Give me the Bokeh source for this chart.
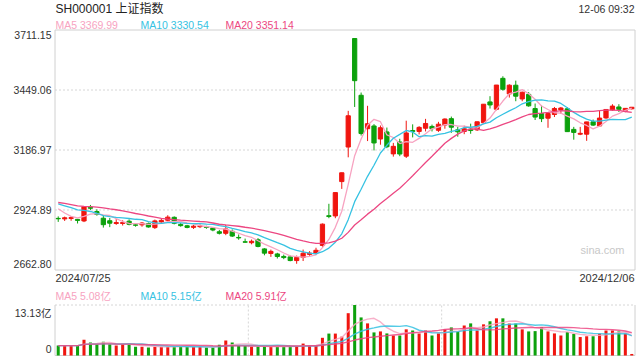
from bokeh.plotting import figure
from bokeh.models import Range1d, Label
from bokeh.embed import file_html
from bokeh.resources import INLINE
import pandas as pd

# ---------------- data ----------------
title_text = "SH000001 上证指数"
time_text = "12-06 09:32"
date_labels = ["2024/07/25", "2024/12/06"]
price_ticks = [3711.15, 3449.06, 3186.97, 2924.89, 2662.80]
vol_ticks = [13.13, 0]
vol_tick_labels = ["13.13亿", "0"]
vol_grid_x = [29.5, 59.5]
ma_names = ["MA5", "MA10", "MA20"]
ma_windows = [5, 10, 20]
ma_last_price = ["3369.99", "3330.54", "3351.14"]
ma_last_vol = ["5.08亿", "5.15亿", "5.91亿"]

# closes of the 19 sessions before 2024/07/25 (needed for the moving averages)
prior_closes = [2967.40, 2994.73, 2997.01, 2982.38, 2957.57, 2949.94, 2922.45, 2959.37,
                2939.36, 2970.39, 2971.30, 2974.01, 2976.30, 2962.17, 2977.13, 2982.31,
                2964.22, 2915.37, 2901.95]

opens = [2888, 2886, 2888, 2884, 2877, 2937, 2918, 2889, 2878, 2866,
         2866, 2876, 2860, 2860, 2866, 2848, 2873, 2880, 2893, 2862,
         2856, 2849, 2852, 2852, 2846, 2830, 2823, 2832, 2805, 2786,
         2782, 2795, 2755, 2735, 2733, 2722, 2720, 2704, 2718, 2731,
         2737, 2770, 2900, 2899, 3049, 3200, 3674, 3426, 3280, 3292,
         3235, 3266, 3170, 3222, 3160, 3272, 3268, 3282, 3290, 3273,
         3296, 3324, 3275, 3268, 3278, 3275, 3306, 3397, 3365, 3500,
         3432, 3470, 3410, 3430, 3368, 3346, 3326, 3342, 3362, 3367,
         3277, 3256, 3256, 3310, 3292, 3327, 3362, 3375, 3360, 3367]
highs = [2897, 2896, 2898, 2886, 2941, 2947, 2928, 2902, 2890, 2885,
         2880, 2884, 2866, 2872, 2870, 2883, 2887, 2902, 2897, 2868,
         2860, 2860, 2862, 2856, 2849, 2838, 2860, 2840, 2818, 2800,
         2796, 2802, 2758, 2752, 2738, 2730, 2726, 2726, 2752, 2745,
         2760, 2866, 2952, 3001, 3088, 3358, 3674, 3438, 3380, 3300,
         3294, 3285, 3218, 3236, 3315, 3299, 3291, 3323, 3298, 3310,
         3325, 3333, 3288, 3293, 3302, 3311, 3387, 3422, 3471, 3509,
         3474, 3490, 3442, 3440, 3390, 3382, 3349, 3375, 3375, 3374,
         3288, 3288, 3310, 3320, 3360, 3366, 3387, 3387, 3370, 3375]
lows = [2873, 2877, 2878, 2866, 2872, 2925, 2900, 2848, 2850, 2860,
        2857, 2858, 2852, 2852, 2848, 2842, 2868, 2876, 2862, 2852,
        2845, 2842, 2846, 2843, 2832, 2818, 2815, 2807, 2795, 2782,
        2775, 2762, 2727, 2720, 2713, 2710, 2701, 2690, 2702, 2725,
        2730, 2764, 2889, 2889, 3017, 3155, 3375, 3250, 3226, 3185,
        3210, 3195, 3158, 3160, 3152, 3242, 3255, 3268, 3268, 3266,
        3280, 3262, 3245, 3256, 3258, 3270, 3303, 3368, 3360, 3446,
        3416, 3400, 3400, 3376, 3318, 3309, 3284, 3331, 3345, 3266,
        3232, 3252, 3227, 3292, 3290, 3323, 3358, 3353, 3352, 3364]
closes = [2886.74, 2890.90, 2891.85, 2879.30, 2938.75, 2932.39, 2905.34, 2860.70, 2867.28, 2869.90,
          2869.83, 2862.19, 2858.20, 2867.95, 2850.65, 2877.36, 2879.43, 2893.67, 2866.66, 2856.58,
          2848.77, 2854.37, 2855.52, 2848.73, 2837.43, 2823.11, 2842.21, 2811.04, 2802.98, 2784.28,
          2788.31, 2765.81, 2736.49, 2744.19, 2721.80, 2717.12, 2704.09, 2717.28, 2736.02, 2736.81,
          2748.92, 2863.13, 2896.31, 3000.95, 3087.53, 3336.50, 3489.78, 3258.86, 3301.93, 3217.74,
          3284.32, 3201.29, 3202.95, 3169.38, 3261.56, 3268.11, 3285.87, 3302.80, 3280.26, 3299.70,
          3322.20, 3286.41, 3266.24, 3279.82, 3272.01, 3310.21, 3386.99, 3383.81, 3470.66, 3452.30,
          3470.07, 3421.97, 3439.28, 3379.84, 3330.73, 3323.85, 3346.01, 3367.99, 3370.40, 3267.19,
          3263.76, 3259.76, 3309.78, 3295.70, 3326.46, 3363.98, 3378.81, 3364.65, 3368.86, 3373.65]
# volume, 亿
volumes = [2.57, 2.57, 2.57, 2.57, 4.12, 3.35, 2.92, 3.60, 2.90, 2.57,
           2.90, 2.90, 2.30, 2.30, 2.06, 2.30, 2.30, 2.30, 2.30, 2.30,
           2.30, 2.30, 2.30, 2.06, 2.06, 2.80, 3.90, 3.35, 2.50, 2.50,
           2.30, 2.30, 2.30, 2.30, 2.30, 2.30, 2.50, 2.50, 3.10, 2.50,
           2.50, 4.60, 5.70, 5.70, 4.90, 11.00, 13.13, 9.90, 8.35, 6.00,
           6.26, 5.74, 5.20, 5.20, 6.80, 6.50, 5.74, 6.50, 5.20, 5.74,
           6.80, 7.30, 6.26, 7.80, 8.35, 6.50, 8.10, 8.90, 9.66, 9.66,
           8.30, 8.30, 6.80, 6.26, 6.34, 7.40, 6.26, 5.74, 5.20, 6.10,
           5.60, 4.80, 5.00, 5.00, 5.70, 6.50, 6.50, 6.26, 5.74, 0.40]

# ---------------- style / layout (pixels) ----------------
W, H = 640, 360
BOX_L, BOX_R = 54.5, 634.5          # left / right edges of both panels
P_TOP, P_BOT = 29.5, 269.5          # price panel
V_TOP, V_BOT = 304.5, 355.0         # volume panel
RED, GREEN = "#f0150f", "#0ca10c"
MA_COLORS = ["#f7a3c1", "#36c2e2", "#ec4782"]
TXT = "#333333"
BORDER = "#d0d0d0"
GRID = "#d6d6d6"
FONT = "Liberation Sans, Noto Sans CJK SC"

n = len(closes)
idx = list(range(n))
x0, x1 = -0.5, n - 0.5
ux = (BOX_R - BOX_L) / (x1 - x0)
p_hi, p_lo = price_ticks[0], price_ticks[-1]
uy = (p_hi - p_lo) / (P_BOT - P_TOP)
v_hi, v_lo = vol_ticks[0], vol_ticks[-1]
uv = (v_hi - v_lo) / (V_BOT - V_TOP)

colors = [RED if c >= o else GREEN for o, c in zip(opens, closes)]
mids = [(o + c) / 2 for o, c in zip(opens, closes)]
halves = [max(abs(c - o) / 2, 0.8) for o, c in zip(opens, closes)]
body_top = [m + h for m, h in zip(mids, halves)]
body_bot = [m - h for m, h in zip(mids, halves)]

all_closes = pd.Series(prior_closes + closes)
price_ma = [all_closes.rolling(w).mean().iloc[len(prior_closes):].tolist() for w in ma_windows]
vol_s = pd.Series(volumes)
vol_ma = [vol_s.rolling(w, min_periods=1).mean().tolist() for w in ma_windows]

p = figure(width=W, height=H,
           x_range=Range1d(x0 - BOX_L / ux, x1 + (W - BOX_R) / ux),
           y_range=Range1d(p_lo - (H - P_BOT) * uy, p_hi + P_TOP * uy),
           output_backend="svg", toolbar_location=None, tools="",
           x_axis_location=None, y_axis_location=None, title=None)
p.extra_y_ranges = {"vol": Range1d(v_lo - (H - V_BOT) * uv, v_hi + V_TOP * uv)}
p.min_border = 0
p.outline_line_color = None
p.xgrid.visible = False
p.ygrid.visible = False
p.background_fill_color = "white"
p.border_fill_color = "white"

# ---- price panel frame & grid
mid_ticks = price_ticks[1:-1]
p.segment(x0=[x0] * len(mid_ticks), x1=[x1] * len(mid_ticks), y0=mid_ticks, y1=mid_ticks,
          line_color=GRID, line_width=1, line_dash="2 2")
p.quad(left=[x0], right=[x1], bottom=[p_lo], top=[p_hi], fill_color=None,
       line_color=BORDER, line_width=1)

# ---- candles
p.segment(x0=idx, y0=lows, x1=idx, y1=highs, color=colors, line_width=1)
p.vbar(x=idx, width=0.66, top=body_top, bottom=body_bot, fill_color=colors,
       line_color=colors, line_width=1)
for ma, col in zip(price_ma, MA_COLORS):
    p.line(idx, ma, color=col, line_width=1.3)

# ---- volume panel frame & grid
p.segment(x0=[x0], x1=[x1], y0=[v_hi], y1=[v_hi], line_color=GRID, line_dash="2 2",
          y_range_name="vol")
p.segment(x0=vol_grid_x, x1=vol_grid_x, y0=[v_lo] * 2, y1=[v_hi] * 2, line_color=GRID,
          line_dash="2 2", y_range_name="vol")
p.segment(x0=[x0, x1, x0], x1=[x0, x1, x1], y0=[v_lo, v_lo, v_lo], y1=[v_hi, v_hi, v_lo],
          line_color=BORDER, line_width=1, y_range_name="vol")
p.vbar(x=idx, width=0.47, top=volumes, bottom=0, fill_color=colors, line_color=None,
       y_range_name="vol")
for ma, col in zip(vol_ma, MA_COLORS):
    p.line(idx, ma, color=col, line_width=1.4, alpha=0.85, y_range_name="vol")


# ---- texts (screen units: origin bottom-left of canvas)
def lbl(text, x, y, align="left", baseline="middle", size="10.5px", color=TXT, y_units="screen"):
    p.add_layout(Label(x=x, y=y, x_units="screen", y_units=y_units, text=text,
                       text_align=align, text_baseline=baseline, text_font_size=size,
                       text_color=color, text_font=FONT))


def sy(page_y):
    return H - page_y


lbl(title_text, 55, sy(8), size="12px", color="#222222")
lbl(time_text, 634, sy(8.5), align="right")
for k, (nm, v, col) in enumerate(zip(ma_names, ma_last_price, MA_COLORS)):
    lbl(f"{nm} {v}", 55 + 85 * k, sy(24.5), color=col)
# end tick labels sit just inside the panel, the others on their grid lines
lbl(f"{price_ticks[0]:.2f}", 51, sy(P_TOP + 4.5), align="right")
for t in mid_ticks:
    lbl(f"{t:.2f}", 51, t, align="right", y_units="data")
lbl(f"{price_ticks[-1]:.2f}", 51, sy(P_BOT - 6.5), align="right")
lbl(date_labels[0], 55, sy(277.5), size="11px")
lbl(date_labels[1], 634, sy(277.5), align="right", size="11px")
lbl("sina.com", 602, sy(249), align="center", size="11px", color="#c8c8c8")
for k, (nm, v, col) in enumerate(zip(ma_names, ma_last_vol, MA_COLORS)):
    lbl(f"{nm} {v}", 55 + 85 * k, sy(295), color=col)
lbl(vol_tick_labels[0], 51, sy(312), align="right")
lbl(vol_tick_labels[1], 51, sy(348), align="right")

open("out.html", "w").write(file_html(p, INLINE))
